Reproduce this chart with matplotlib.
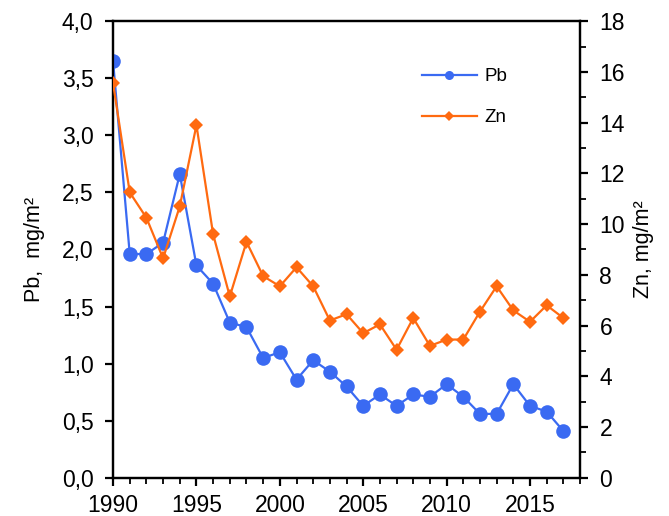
import matplotlib
matplotlib.use("Agg")
import matplotlib.pyplot as plt
from matplotlib.ticker import MultipleLocator, FuncFormatter

plt.rcParams['font.family'] = ['Liberation Sans', 'DejaVu Sans']

years = list(range(1990, 2018))
pb = [3.65, 1.96, 1.96, 2.06, 2.66, 1.86, 1.70, 1.36, 1.32, 1.05,
      1.10, 0.86, 1.03, 0.93, 0.80, 0.63, 0.73, 0.63, 0.73, 0.71,
      0.82, 0.71, 0.56, 0.56, 0.82, 0.63, 0.58, 0.41]
zn = [15.55, 11.25, 10.25, 8.65, 10.7, 13.9, 9.6, 7.15, 9.3, 7.95,
      7.55, 8.3, 7.55, 6.2, 6.45, 5.7, 6.05, 5.05, 6.3, 5.2,
      5.45, 5.45, 6.55, 7.55, 6.6, 6.15, 6.8, 6.3]

blue = "#3A6AF2"
orange = "#FF6A10"

fig = plt.figure(figsize=(6.69, 5.16), dpi=100)
ax = fig.add_axes([0.169, 0.074, 0.698, 0.885])
ax2 = ax.twinx()

ax.plot(years, pb, color=blue, lw=1.6, marker='o', ms=10.5,
        markeredgewidth=0, zorder=3, label='Pb')
ax2.plot(years, zn, color=orange, lw=1.6, marker='D', ms=6.8,
         markeredgewidth=0, zorder=3, label='Zn')

ax.set_xlim(1990, 2018)
ax.set_ylim(0, 4.0)
ax2.set_ylim(0, 18)

ax.xaxis.set_major_locator(MultipleLocator(5))
ax.xaxis.set_minor_locator(MultipleLocator(1))
ax.yaxis.set_major_locator(MultipleLocator(0.5))
ax.yaxis.set_major_formatter(FuncFormatter(lambda v, p: f"{v:.1f}".replace('.', ',')))
ax2.yaxis.set_major_locator(MultipleLocator(2))
ax2.yaxis.set_minor_locator(MultipleLocator(1))

xt = [t for t in range(1990, 2016, 5)]
ax.set_xticks(xt)
ax.set_xticklabels([str(t) for t in xt])

for a in (ax, ax2):
    for s in a.spines.values():
        s.set_linewidth(1.6)
    a.tick_params(which='major', length=6, width=1.6, labelsize=16.5,
                  direction='out', pad=8)
    a.tick_params(which='minor', length=4, width=1.3, direction='out')
ax.tick_params(axis='x', which='major', pad=6)

ax.set_ylabel("Pb,  mg/m²", fontsize=15.5, labelpad=12)
ax2.set_ylabel("Zn, mg/m²", fontsize=15.5, labelpad=6)

ax2.set_zorder(ax.get_zorder() + 1)
ax2.patch.set_visible(False)

leg_handles = [
    plt.Line2D([], [], color=blue, lw=1.6, marker='o', ms=6.5, markeredgewidth=0),
    plt.Line2D([], [], color=orange, lw=1.6, marker='D', ms=5, markeredgewidth=0),
]
fig.legend(leg_handles, ['Pb', 'Zn'], loc='upper left',
           bbox_to_anchor=(0.617, 0.886), frameon=False, fontsize=13.5,
           handlelength=2.9, handletextpad=0.4, labelspacing=1.28, borderpad=0)

fig.savefig("out.png", dpi=100)
